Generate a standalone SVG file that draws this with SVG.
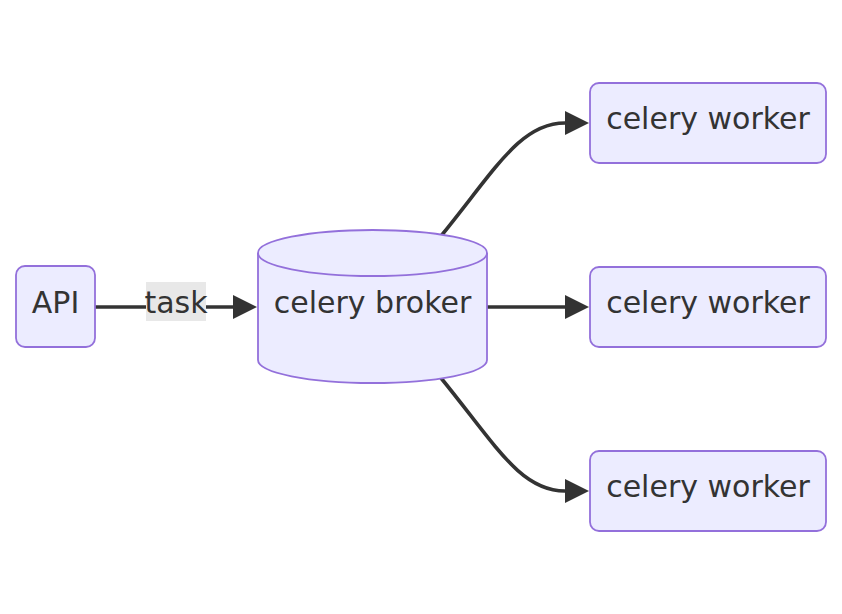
<svg xmlns="http://www.w3.org/2000/svg" width="842" height="614" viewBox="0 0 842 614">
<defs>
<style>
.node{fill:#ECECFF;stroke:#9370DB;stroke-width:1.8}
.lbl{font-family:"DejaVu Sans","Liberation Sans",sans-serif;font-size:30px;fill:#333333;text-anchor:middle}
.edge{fill:none;stroke:#333333;stroke-width:3.6}
</style>
<marker id="arrow" viewBox="0 0 10 10" refX="0" refY="5" markerUnits="userSpaceOnUse" markerWidth="25" markerHeight="24" orient="auto">
<path d="M0,0 L10,5 L0,10 z" fill="#333333"/>
</marker>
</defs>
<rect width="842" height="614" fill="#ffffff"/>
<g id="connectors">
<path class="edge" d="M95,307 L233,307" marker-end="url(#arrow)"/>
<rect x="146" y="282" width="60" height="39" fill="#e8e8e8"/>
<text class="lbl" x="176" y="313">task</text>
<path class="edge" d="M487,307 L565,307" marker-end="url(#arrow)"/>
<path class="edge" d="M441,236 C495,170 520,123 565,123" marker-end="url(#arrow)"/>
<path class="edge" d="M441,378 C495,444 520,491 565,491" marker-end="url(#arrow)"/>
</g>
<g id="api">
<rect class="node" x="16" y="266" width="79" height="81" rx="9" ry="9"/>
<text class="lbl" x="55.5" y="313">API</text>
</g>
<g id="broker">
<path class="node" d="M258,253 A114.5,23 0 0 1 487,253 L487,360 A114.5,23 0 0 1 258,360 Z"/>
<path class="node" d="M258,253 A114.5,23 0 0 0 487,253" style="fill:none"/>
<text class="lbl" x="372.5" y="313">celery broker</text>
</g>
<g id="worker1">
<rect class="node" x="590" y="83" width="236" height="80" rx="9" ry="9"/>
<text class="lbl" x="708" y="129">celery worker</text>
</g>
<g id="worker2">
<rect class="node" x="590" y="267" width="236" height="80" rx="9" ry="9"/>
<text class="lbl" x="708" y="313">celery worker</text>
</g>
<g id="worker3">
<rect class="node" x="590" y="451" width="236" height="80" rx="9" ry="9"/>
<text class="lbl" x="708" y="497">celery worker</text>
</g>
</svg>
